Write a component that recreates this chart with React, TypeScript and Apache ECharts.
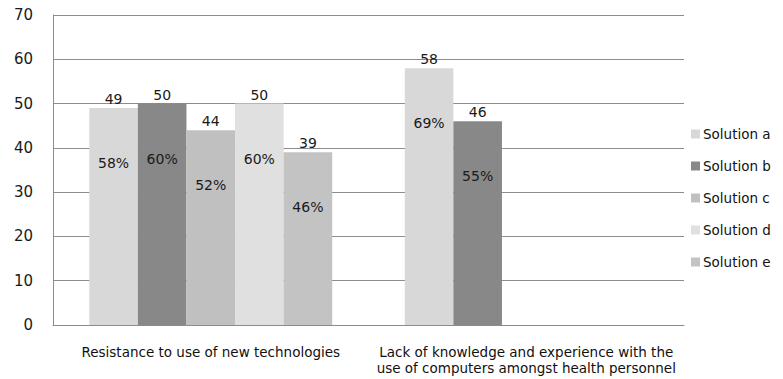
import React, { useEffect, useRef } from "react";
import * as echarts from "echarts";

const categories = [
  "Resistance to use of new technologies",
  "Lack of knowledge and experience with the\nuse of computers amongst health personnel",
];
const seriesNames = ["Solution a", "Solution b", "Solution c", "Solution d", "Solution e"];
const counts: (number | null)[][] = [
  [49, 58],
  [50, 46],
  [44, null],
  [50, null],
  [39, null],
];
const percents: (number | null)[][] = [
  [58, 69],
  [60, 55],
  [52, null],
  [60, null],
  [46, null],
];
const colors = ["#d8d8d8", "#888888", "#c0c0c0", "#e0e0e0", "#c3c3c3"];
const yTicks = { min: 0, max: 70, interval: 10 };

const FONT = "DejaVu Sans";

export default function App() {
  const ref = useRef<HTMLDivElement>(null);

  useEffect(() => {
    if (!ref.current) return;
    const chart = echarts.init(ref.current, null, { renderer: "svg" });

    const series = seriesNames.map((name, si) => ({
      name,
      type: "bar",
      data: counts[si].map((v) => (v === null ? "-" : v)),
      barGap: "0%",
      barCategoryGap: "23%",
      itemStyle: { color: colors[si] },
      label: {
        show: true,
        position: ["50%", -18],
        align: "center",
        verticalAlign: "top",
        formatter: (p: any) => {
          const pct = percents[si][p.dataIndex];
          return `{v|${p.value}}\n{p|${pct}%}`;
        },
        rich: {
          v: { fontFamily: FONT, fontSize: 14, lineHeight: 18, color: "#1a1a1a", align: "center" },
          p: { fontFamily: FONT, fontSize: 14, lineHeight: 110, color: "#1a1a1a", align: "center" },
        },
      },
    }));

    chart.setOption({
      animation: false,
      backgroundColor: "#ffffff",
      grid: { left: 53, right: 99, top: 15, bottom: 54, containLabel: false },
      legend: {
        orient: "vertical",
        left: 686,
        top: 122,
        itemWidth: 9,
        itemHeight: 9,
        itemGap: 18,
        icon: "rect",
        data: seriesNames,
        textStyle: { fontFamily: FONT, fontSize: 13.5, color: "#111", padding: [0, 0, 0, -2] },
      },
      xAxis: {
        type: "category",
        data: categories,
        axisLine: { show: true, lineStyle: { color: "#8c8c8c", width: 1 } },
        axisTick: { show: false },
        axisLabel: {
          fontFamily: FONT,
          fontSize: 13.5,
          color: "#111",
          margin: 19,
          lineHeight: 16,
          interval: 0,
        },
      },
      yAxis: {
        type: "value",
        min: yTicks.min,
        max: yTicks.max,
        interval: yTicks.interval,
        axisLine: { show: true, lineStyle: { color: "#8c8c8c", width: 1 } },
        axisTick: { show: false },
        splitLine: { show: true, lineStyle: { color: "#8c8c8c", width: 1 } },
        axisLabel: { fontFamily: FONT, fontSize: 15, color: "#1a1a1a", margin: 20 },
      },
      series,
    });

    return () => chart.dispose();
  }, []);

  return (
    <div
      ref={ref}
      style={{ position: "absolute", left: 0, top: 0, width: 783, height: 379, background: "#fff" }}
    />
  );
}
